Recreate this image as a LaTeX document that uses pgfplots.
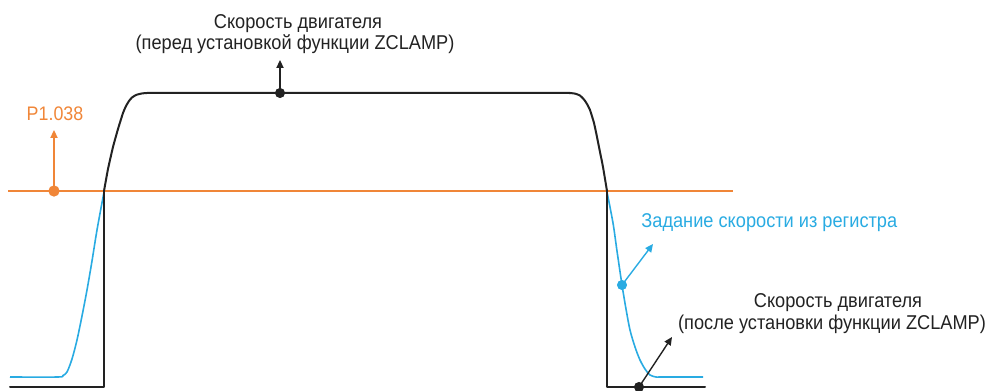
\documentclass[border=0pt]{standalone}
\usepackage{fontspec}
\setmainfont[FakeStretch=0.91]{Liberation Sans}
\usepackage{pgfplots}
\pgfplotsset{compat=1.18}
\usetikzlibrary{arrows.meta}
\definecolor{SpeedBlack}{RGB}{34,34,34}
\definecolor{RefOrange}{RGB}{240,134,56}
\definecolor{CmdBlue}{RGB}{41,171,226}
\begin{document}
\begin{tikzpicture}
\begin{axis}[
    x=0.5pt, y=0.5pt,
    xmin=0, xmax=986, ymin=0, ymax=391,
    hide axis, clip=false,
    every node/.style={font=\fontsize{9}{11}\selectfont},
    arr/.style={line width=0.7pt, -{Triangle[length=4pt,width=3.6pt]}},
  ]
  % corners of the picture
  \coordinate (ll) at (axis cs:0,0);
  \coordinate (ur) at (axis cs:986,391);

  % P1.038 level
  \addplot[RefOrange, line width=0.8pt] coordinates {(8,200) (733,200)};
  \addplot[RefOrange, arr] coordinates {(54,200) (54,261)};
  \addplot[RefOrange, only marks, mark=*, mark size=2.6pt] coordinates {(54,200)};
  \node[RefOrange, anchor=base, font=\fontsize{9.8}{11}\selectfont] at (axis cs:55,270) {P1.038};

  % speed command from register
  \addplot[CmdBlue, line width=0.8pt, smooth, tension=0.5] coordinates {
    (10,14) (58,14) (63,15.5) (67,19) (72,32) (77,51) (82,75) (87,101) (92,130) (97,161) (104,199)};
  \addplot[CmdBlue, line width=0.8pt, smooth, tension=0.5] coordinates {
    (607,199) (613,168) (617,140) (622,106) (626,82) (630,61) (635,44) (640,31) (645,22) (650,16) (656,14) (662,14) (703,14)};
  \addplot[CmdBlue, arr] coordinates {(622,106) (653,147)};
  \addplot[CmdBlue, only marks, mark=*, mark size=2.3pt] coordinates {(622,106)};
  \node[CmdBlue, anchor=base west, inner sep=0pt] at (axis cs:641,163) {Задание скорости из регистра};

  % motor speed
  \addplot[SpeedBlack, line width=1pt, line cap=round, line join=round] coordinates {(10,4) (104,4) (104,200)};
  \addplot[SpeedBlack, line width=1pt, line cap=round, smooth, tension=0.3] coordinates {
    (104,200) (108,222) (113,244) (118,262) (123,278) (126,285) (129,290) (132,293.5)
    (136,296) (141,297.4) (147,298) (160,298) (280,298) (555,298) (569,298) (575,297.4)
    (580,295.5) (584,291.5) (587,287) (590,281) (594,268) (597,254) (600,239) (603,224) (607,200)};
  \addplot[SpeedBlack, line width=1pt, line cap=round, line join=round] coordinates {(607,200) (607,4) (705,4)};

  % annotations of the motor speed
  \addplot[SpeedBlack, arr] coordinates {(280,298) (280,331)};
  \addplot[SpeedBlack, only marks, mark=*, mark size=2.3pt] coordinates {(280,298)};
  \node[SpeedBlack, anchor=base] at (axis cs:298,362) {Скорость двигателя};
  \node[SpeedBlack, anchor=base] at (axis cs:295,341) {(перед установкой функции ZCLAMP)};

  \addplot[SpeedBlack, arr] coordinates {(639,4) (672,54)};
  \addplot[SpeedBlack, only marks, mark=*, mark size=2.3pt] coordinates {(639,4)};
  \node[SpeedBlack, anchor=base] at (axis cs:838,83) {Скорость двигателя};
  \node[SpeedBlack, anchor=base] at (axis cs:832,61) {(после установки функции ZCLAMP)};
\end{axis}
\pgfresetboundingbox
\path[use as bounding box] (ll) rectangle (ur);
\end{tikzpicture}
\end{document}
